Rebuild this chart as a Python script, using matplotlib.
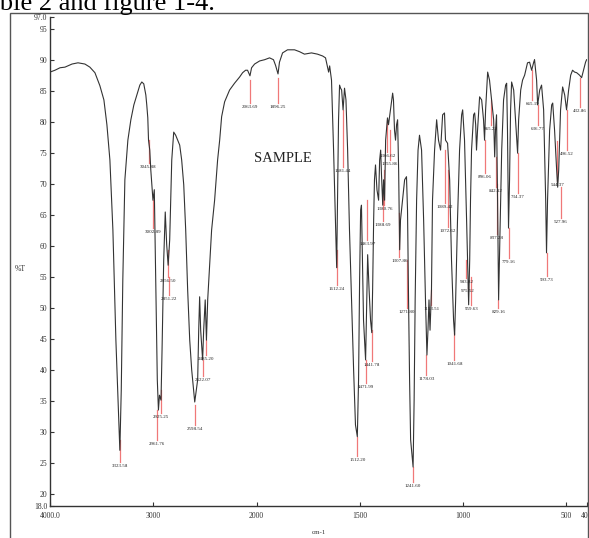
import numpy as np
import matplotlib
matplotlib.use("Agg")
import matplotlib.pyplot as plt
from matplotlib.patches import Rectangle

# ---------------- data ----------------
wavenumber = [4000, 3952, 3903, 3855, 3787, 3729, 3662, 3614, 3565, 3517, 3478, 3449, 3420, 3391, 3362,
              3323.6, 3310, 3295, 3275, 3246, 3217, 3188, 3159, 3130, 3111, 3092, 3072, 3063, 3053, 3046,
              3034, 3024, 3003, 2990, 2976, 2961, 2950, 2940, 2925, 2915, 2899, 2884, 2870, 2856, 2841,
              2831, 2821, 2802, 2783, 2763, 2744, 2725, 2705, 2686, 2667, 2647, 2628, 2609, 2598.5, 2570,
              2560, 2551, 2541, 2522, 2512, 2497, 2485, 2473, 2454, 2435, 2406, 2377, 2357, 2338, 2309,
              2261, 2213, 2164, 2135, 2106, 2087, 2063.7, 2048, 2019,
              1985, 1961, 1937, 1918, 1908, 1896, 1889, 1874, 1850, 1816, 1792, 1768, 1734, 1705, 1680,
              1666, 1651, 1646, 1637, 1627, 1617, 1612, 1608, 1603, 1598, 1593, 1588, 1581, 1574, 1567,
              1559, 1550, 1540, 1530, 1521, 1512, 1506, 1501, 1496, 1492, 1487, 1482, 1472, 1462, 1455,
              1448, 1442, 1438, 1433, 1429, 1424, 1417, 1409, 1404, 1399, 1395, 1389, 1385, 1380, 1375,
              1366, 1361, 1356, 1346, 1341, 1337, 1332, 1327, 1322, 1317, 1312, 1307, 1303, 1293, 1283,
              1274, 1269, 1264, 1259, 1254, 1242, 1237, 1232, 1225, 1218, 1211, 1201, 1191, 1182, 1175,
              1170, 1165, 1160, 1153, 1148, 1138, 1128, 1119, 1109, 1099, 1090, 1085, 1075, 1065, 1056,
              1046, 1041, 1036, 1027, 1017, 1007, 1002, 993, 983, 973, 968, 964, 959, 949, 944,
              939, 935, 930, 920, 910, 901, 896, 891, 881, 872, 862, 852, 847, 843, 838,
              833, 828, 823, 813, 804, 794, 789, 785, 780, 775, 770, 765, 755, 746, 736,
              731, 721, 712, 702, 688, 678, 668, 658, 654, 644, 639, 629, 620, 610, 600,
              596, 591, 581, 571, 566, 557, 547, 542, 537, 528, 518, 508, 499, 489, 479,
              470, 460, 450, 436, 426, 417, 407, 402]
transmittance = [88.1, 88.4, 88.8, 88.9, 89.4, 89.6, 89.4, 88.9, 88.0, 85.9, 83.6, 79.6, 73.9, 62.6, 44.8,
                 27.0, 36.7, 54.5, 70.7, 77.1, 80.4, 82.8, 84.4, 86.0, 86.5, 86.2, 84.4, 82.8, 80.7, 77.1,
                 75.5, 72.3, 67.4, 69.1, 54.5, 38.4, 33.5, 35.9, 35.1, 43.2, 57.7, 65.5, 60.2, 56.9, 61.0,
                 67.4, 73.9, 78.4, 77.9, 77.1, 76.3, 73.9, 69.9, 62.6, 52.9, 44.8, 40.0, 36.7, 34.8, 38.4,
                 46.4, 51.8, 46.4, 41.6, 46.4, 51.3, 44.8, 51.3, 57.0, 62.6, 67.4, 73.9, 77.1, 80.9, 83.3,
                 85.2, 86.3, 87.3, 88.0, 88.4, 88.4, 87.5, 88.8, 89.4,
                 89.9, 90.1, 90.4, 90.1, 89.2, 87.8, 89.7, 91.2, 91.7, 91.7, 91.4, 91.0, 91.2, 91.0, 90.7,
                 90.4, 88.1, 89.1, 86.8, 75.5, 62.6, 56.5, 67.4, 80.4, 86.0, 85.5, 85.2, 82.0, 85.5, 83.6,
                 75.5, 62.6, 51.3, 40.0, 31.1, 29.2, 38.4, 54.5, 65.8, 66.6, 57.7, 48.0, 41.6, 58.6, 52.9,
                 48.0, 46.0, 52.9, 64.2, 70.7, 73.1, 69.1, 67.4, 73.9, 75.5, 71.5, 66.6, 70.7, 67.4, 77.1,
                 80.7, 79.6, 80.9, 83.6, 84.7, 83.6, 78.7, 77.1, 79.6, 80.4, 72.3, 59.4, 64.2, 67.4, 70.7,
                 71.2, 65.8, 51.3, 38.4, 28.7, 24.3, 35.1, 51.3, 67.4, 75.5, 77.9, 75.5, 64.2, 51.3, 42.4,
                 46.4, 51.3, 46.4, 52.9, 67.4, 75.5, 80.4, 77.1, 75.5, 81.2, 81.5, 77.1, 76.6, 70.7, 57.7,
                 48.0, 45.6, 51.3, 64.2, 75.5, 81.2, 82.0, 77.1, 64.2, 50.5, 57.7, 67.4, 75.5, 81.2, 81.5,
                 79.6, 75.5, 78.7, 84.1, 83.6, 80.4, 77.1, 82.0, 88.1, 86.8, 83.6, 80.4, 74.4, 78.7, 81.2,
                 67.4, 51.3, 59.4, 75.5, 83.6, 86.0, 86.3, 78.7, 62.9, 70.7, 82.0, 86.5, 85.2, 80.4, 75.0,
                 80.4, 85.2, 86.8, 87.6, 89.6, 89.7, 88.4, 89.7, 90.1, 86.8, 82.8, 85.2, 86.0, 82.0, 67.4,
                 58.9, 67.4, 78.7, 82.8, 83.1, 78.7, 72.3, 69.5, 72.3, 82.0, 85.7, 84.4, 82.0, 85.2, 87.6,
                 88.4, 88.1, 88.0, 87.6, 87.2, 88.4, 89.7, 90.1]

peak_labels = ["3323.58", "3045.88", "3002.89", "2925.25", "2961.76", "2856.50", "2851.22",
               "2598.54", "2522.07", "2485.20", "2063.69", "1896.25", "1612.24", "1581.44",
               "1512.20", "1471.99", "1441.78", "1463.97", "1388.69", "1380.76", "1366.62",
               "1355.86", "1307.86", "1271.80", "1241.60", "1178.03", "1153.51", "1089.42",
               "1072.62", "1041.68", "983.82", "975.52", "959.63", "896.06", "865.22",
               "842.12", "837.28", "829.16", "779.16", "734.37", "665.19", "636.77", "593.73",
               "544.37", "527.96", "496.52", "432.86"]
peak_wn = [3323.58, 3045.88, 3002.89, 2925.25, 2961.76, 2856.50, 2851.22,
           2598.54, 2522.07, 2485.20, 2063.69, 1896.25, 1612.24, 1581.44,
           1512.20, 1471.99, 1441.78, 1463.97, 1388.69, 1380.76, 1366.62,
           1355.86, 1307.86, 1271.80, 1241.60, 1178.03, 1153.51, 1089.42,
           1072.62, 1041.68, 983.82, 975.52, 959.63, 896.06, 865.22,
           842.12, 837.28, 829.16, 779.16, 734.37, 665.19, 636.77, 593.73,
           544.37, 527.96, 496.52, 432.86]
peak_top = [28.7, 77.1, 67.4, 36.7, 33.5, 59.4, 55.0,
            34.3, 41.6, 44.8, 86.8, 87.2, 59.4, 82.0,
            29.2, 41.6, 46.4, 67.4, 69.9, 72.3, 80.4,
            78.8, 65.3, 57.8, 24.3, 42.4, 52.9, 75.5,
            72.3, 46.0, 57.8, 53.0, 55.0, 77.1, 83.6,
            74.4, 70.0, 51.3, 62.9, 75.0, 88.4, 82.8, 58.9,
            77.0, 69.5, 82.0, 87.2]
peak_bottom = [25.1, 73.4, 62.9, 33.0, 28.7, 55.0, 52.1,
               31.1, 39.0, 42.4, 83.1, 83.1, 53.7, 72.8,
               26.1, 37.9, 41.4, 61.0, 64.1, 66.6, 75.2,
               73.9, 58.2, 50.0, 21.9, 39.2, 50.5, 66.9,
               63.0, 41.6, 54.8, 53.4, 50.5, 71.8, 79.5,
               69.5, 62.0, 50.0, 58.0, 68.5, 83.6, 79.5, 55.2,
               70.5, 64.5, 75.5, 82.5]

x_ticks = [4000, 3000, 2000, 1500, 1000, 500, 400]
x_ticklabels = ["4000.0", "3000", "2000", "1500", "1000", "500", "400"]
y_ticks = [18, 20, 25, 30, 35, 40, 45, 50, 55, 60, 65, 70, 75, 80, 85, 90, 95, 97]
y_ticklabels = ["18.0", "20", "25", "30", "35", "40", "45", "50", "55", "60", "65", "70",
                "75", "80", "85", "90", "95", "97.0"]

# ---------------- plotting ----------------
plt.rcParams["font.family"] = ["Liberation Serif", "DejaVu Serif"]

def fwd(x):
    x = np.asarray(x, dtype=float)
    return np.where(x >= 2000, x, 2 * x - 2000)

def inv(u):
    u = np.asarray(u, dtype=float)
    return np.where(u >= 2000, u, (u + 2000) / 2)

W, H = 589, 538
fig = plt.figure(figsize=(W / 100, H / 100), dpi=100)
fig.patch.set_facecolor("white")

# outer frame of the scanned figure
fig.add_artist(Rectangle((10 / W, -0.05), 578 / W, (H - 13) / H + 0.05, transform=fig.transFigure,
                         fill=False, edgecolor="#555555", lw=1.0))
# caption text of the page, cut off at the top-left as in the scan
fig.text(215 / W, 1 - 10 / H, "Table 2 and figure 1-4.", ha="right", va="baseline", fontsize=19,
         color="black")

ax = fig.add_axes([50 / W, 32 / H, 537 / W, 489 / H])
ax.set_xscale("function", functions=(fwd, inv))
ax.set_xlim(4000, 400)
ax.set_ylim(18, 97)

# red peak markers
for wn, top, bot, lab in zip(peak_wn, peak_top, peak_bottom, peak_labels):
    ax.plot([wn, wn], [bot, top], color="#f07878", lw=0.9, zorder=2)
    ax.text(wn, bot - 0.3, lab, ha="center", va="top", fontsize=3.6, color="#222222", zorder=4)

ax.plot(wavenumber, transmittance, color="#333333", lw=0.8, zorder=3)

ax.text(1874, 74.2, "SAMPLE", fontsize=10.5, ha="center", va="center", color="#222222")

for s in ["top", "right"]:
    ax.spines[s].set_visible(False)
for s in ["left", "bottom"]:
    ax.spines[s].set_color("#333333")
    ax.spines[s].set_linewidth(1.0)

ax.set_xticks(x_ticks)
ax.set_xticklabels(x_ticklabels)
ax.set_yticks(y_ticks)
ax.set_yticklabels(y_ticklabels)
ax.tick_params(axis="both", direction="in", length=3, width=0.8, labelsize=5.5,
               colors="#333333", pad=2)
ax.tick_params(axis="x", pad=4)
ax.minorticks_off()

ax.set_xlabel("cm-1", fontsize=5, color="#333333")
ax.xaxis.set_label_coords(0.5, -0.05)
ax.text(-0.055, 0.485, "%T", transform=ax.transAxes, fontsize=5.5, ha="center", va="center",
        color="#333333")

fig.savefig("out.png", dpi=100, facecolor="white")
